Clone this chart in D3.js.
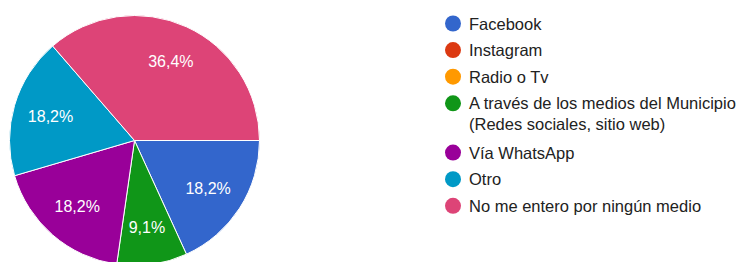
<!DOCTYPE html>
<html>
<head>
<meta charset="utf-8">
<script src="https://cdn.jsdelivr.net/npm/d3@7"></script>
<style>
  body { margin: 0; background: #fff; }
  svg text { font-family: "Liberation Sans", Arial, sans-serif; }
</style>
</head>
<body>
<script>
// categories, counts (11 responses) and colours of the slices
var categories = ["Facebook", "Instagram", "Radio o Tv",
                  "A través de los medios del Municipio|(Redes sociales, sitio web)",
                  "Vía WhatsApp", "Otro", "No me entero por ningún medio"];
var counts = [2, 0, 0, 1, 2, 2, 4];
var colors = ["#3366cc", "#dc3912", "#ff9900", "#109618", "#990099", "#0099c6", "#dd4477"];

var width = 742, height = 262;
var cx = 134.5, cy = 140.5, radius = 125;

var svg = d3.select("body")
        .append("svg")
        .attr("width", width)
        .attr("height", height);

var data = categories.map(function(c, i){
    return {label: c, value: counts[i], color: colors[i]};
});
var total = d3.sum(counts);

// pie starts at 3 o'clock, clockwise
var pie = d3.pie()
        .sort(null)
        .value(function(d){ return d.value; })
        .startAngle(Math.PI / 2)
        .endAngle(Math.PI / 2 + 2 * Math.PI);

var arc = d3.arc().innerRadius(0).outerRadius(radius);
var labelArc = d3.arc().innerRadius(radius * 0.7).outerRadius(radius * 0.7);

var g = svg.append("g").attr("transform", "translate(" + cx + "," + cy + ")");

var arcs = pie(data).filter(function(d){ return d.value > 0; });

g.selectAll("path")
        .data(arcs)
        .enter()
        .append("path")
        .attr("d", arc)
        .style("fill", function(d){ return d.data.color; })
        .style("stroke", "#fff")
        .style("stroke-width", 1);

g.selectAll("text.pct")
        .data(arcs)
        .enter()
        .append("text")
        .attr("class", "pct")
        .attr("transform", function(d){ return "translate(" + labelArc.centroid(d) + ")"; })
        .attr("text-anchor", "middle")
        .attr("dy", "0.36em")
        .style("fill", "#fff")
        .style("font-size", "16px")
        .text(function(d){
            return d3.format(".1f")(d.value / total * 100).replace(".", ",") + "%";
        });

// legend
var legend = svg.append("g").attr("transform", "translate(453,0)");
var y = 23.5;
data.forEach(function(d){
    var lines = d.label.split("|");
    var item = legend.append("g").attr("transform", "translate(0," + y + ")");
    item.append("circle")
            .attr("r", 8)
            .style("fill", d.color);
    var t = item.append("text")
            .attr("x", 16)
            .attr("y", 6)
            .style("font-size", "16.5px")
            .style("fill", "#222");
    lines.forEach(function(l, i){
        t.append("tspan")
                .attr("x", 16)
                .attr("dy", i === 0 ? 0 : 21)
                .text(l);
    });
    y += 26.6 + (lines.length - 1) * 22.7;
});
</script>
</body>
</html>
